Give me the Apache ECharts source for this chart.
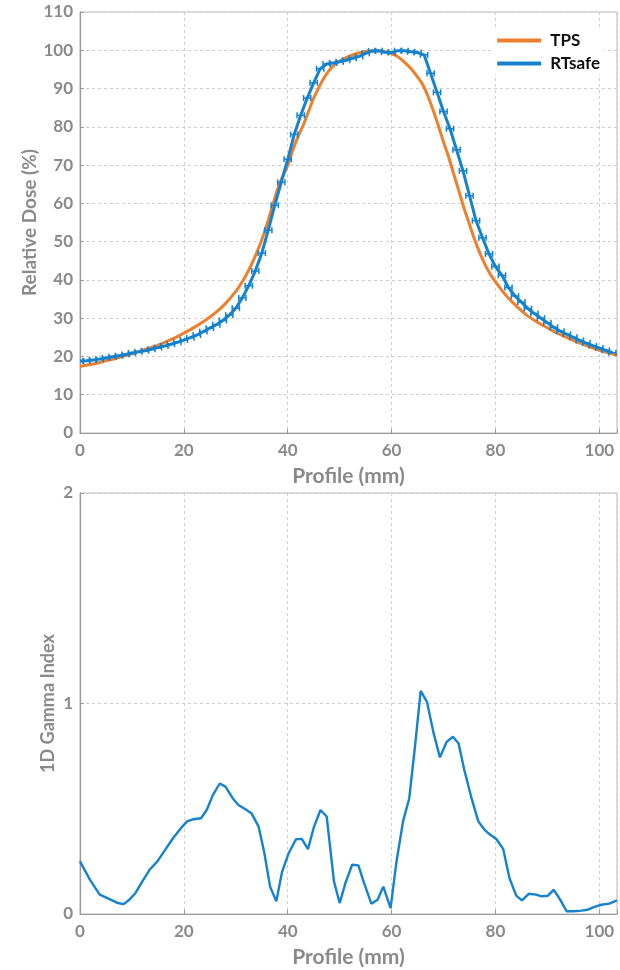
<!DOCTYPE html>
<html>
<head>
<meta charset="utf-8">
<script src="https://cdn.jsdelivr.net/npm/echarts@6/dist/echarts.min.js"></script>
<style>
html,body{margin:0;padding:0;background:#fff;}
#chart{width:620px;height:970px;}
</style>
</head>
<body>
<div id="chart"></div>
<script>
// TPS dose profile (orange)
const tpsX = [0,2,4,6,8,10,12,14,16,18,20,22,24,26,28,30,31,32,33,34,35,36,37,38,39,40,41,42,43,44,45,46,47,48,49,50,52,54,56,58,60,61,62,63,64,65,66,67,68,69,70,71,72,73,74,75,76,77,78,79,80,82,84,86,88,90,92,94,96,98,100,102,103.4];
const tpsY = [17.4,17.9,18.5,19.2,19.9,20.7,21.6,22.5,23.5,24.7,26.1,27.6,29.3,31.3,33.8,37,39,41.3,44,47,50.5,54.5,59,63.5,67,70,74,77.5,80.5,84,87.5,90.3,92.8,94.8,96.2,97.2,98.5,99.4,99.9,99.8,99.1,98.5,97.5,96.2,94.8,93,91,88,84.3,80.3,76,72,67.5,63,58.5,54.5,50.5,47,44,41.5,39.5,36,33.2,30.8,29,27.5,26,24.8,23.6,22.6,21.6,20.8,20.4];

// RTsafe measured profile (blue) with horizontal error bars
const rtX = [0,1.25,2.5,3.75,5,6.25,7.5,8.75,10,11.25,12.5,13.75,15,16.25,17.5,18.75,20,21.25,22.5,23.75,25,26.25,27.5,28.75,30,31.25,32.5,33.75,35,36.25,37.5,38.75,40,41.25,42.5,43.75,45,46.25,47.5,48.75,50,51.25,52.5,53.75,55,56.25,57.5,58.75,60,61.25,62.5,63.75,65,66.25,67.5,68.75,70,71.25,72.5,73.75,75,76.25,77.5,78.75,80,81.25,82.5,83.75,85,86.25,87.5,88.75,90,91.25,92.5,93.75,95,96.25,97.5,98.75,100,101.25,102.5];
const rtY = [18.8,18.9,19.1,19.3,19.6,19.9,20.2,20.5,20.9,21.2,21.5,21.9,22.3,22.7,23.2,23.7,24.3,24.9,25.6,26.5,27.4,28.3,29.4,30.8,32.6,35.3,38.5,42.3,47,53,59.5,65.5,71.5,78,83,87.5,91.5,95.2,96.4,96.7,97,97.4,97.9,98.4,99.2,99.8,99.9,99.5,99.4,99.9,99.9,99.6,99.4,98.8,94,89,84,79.5,74,68.5,62,55.5,51,46.8,43.5,41.2,38,35.8,34.2,32.5,31.2,30,28.8,27.6,26.6,25.8,25,24.2,23.5,22.8,22.2,21.6,21];
const rtErr = 0.7; // horizontal error half-width (mm)

// 1D gamma index
const gX = [0,1.9,3.8,5.7,7.3,8.4,9.5,10.7,11.8,13.4,14.9,16.4,17.9,19.5,20.6,21.8,23.3,24.4,25.6,26.9,28,29.4,30.5,31.7,33,34.4,35.5,36.6,37.8,38.9,40.2,41.6,42.7,43.9,45,46.3,47.5,48.9,50,51.1,52.4,53.6,54.7,56.1,57.3,58.4,59.8,60.9,62.2,63.4,64.5,65.6,66.8,68.1,69.3,70.6,71.8,72.9,74,75.3,76.7,77.9,79,80.2,81.5,82.7,84,85.1,86.4,87.8,88.9,90.1,91.2,92.4,93.7,95,96.6,97.7,98.9,100.4,101.9,103.4];
const gY = [0.25,0.163,0.092,0.071,0.052,0.047,0.068,0.1,0.147,0.21,0.25,0.305,0.36,0.41,0.44,0.45,0.455,0.494,0.566,0.62,0.605,0.55,0.518,0.5,0.479,0.415,0.29,0.13,0.06,0.2,0.29,0.355,0.357,0.308,0.41,0.494,0.463,0.155,0.052,0.147,0.234,0.231,0.147,0.049,0.068,0.13,0.028,0.242,0.44,0.55,0.795,1.06,1.008,0.858,0.744,0.818,0.842,0.81,0.684,0.558,0.44,0.4,0.376,0.355,0.308,0.17,0.087,0.065,0.096,0.092,0.084,0.087,0.115,0.071,0.013,0.013,0.016,0.02,0.033,0.044,0.049,0.065];

const xTicks = [0,20,40,60,80,100];
const doseTicks = [0,10,20,30,40,50,60,70,80,90,100,110];
const gammaTicks = [0,1,2];

const ORANGE = '#EE7F2D';
const BLUE = '#1482CE';
const GRAY = '#8a8a8a';
const FONT = 'Lato';

const zip = (a, b) => a.map((v, i) => [v, b[i]]);

function xAxisCfg(gridIndex) {
  return {
    type: 'value', gridIndex, min: 0, max: 103.4, interval: 20,
    name: 'Profile (mm)', nameLocation: 'middle', nameGap: 33,
    nameTextStyle: {color: GRAY, fontSize: 21, fontWeight: 'bold', fontFamily: FONT},
    axisLine: {show: true, lineStyle: {color: '#999', width: 1.2}},
    axisTick: {show: true, inside: true, length: 4, lineStyle: {color: '#999'}},
    axisLabel: {color: GRAY, fontSize: 17, fontWeight: 'bold', fontFamily: FONT, margin: 9,
      formatter: v => xTicks.includes(v) ? String(v) : ''},
    splitLine: {show: true, lineStyle: {color: '#cfcfcf', type: [3, 3], width: 1}}
  };
}

const option = {
  backgroundColor: '#fff',
  animation: false,
  legend: {
    data: ['TPS', 'RTsafe'],
    orient: 'vertical',
    right: 16, top: 30,
    itemWidth: 44, itemHeight: 4, itemGap: 6,
    icon: 'rect',
    backgroundColor: '#fff',
    padding: [2, 4],
    textStyle: {color: '#111', fontSize: 17, fontWeight: 'bold', fontFamily: FONT, padding: [0, 0, 0, 4]}
  },
  grid: [
    {left: 80, right: 2, top: 12, height: 421, show: true, borderColor: '#bbb', borderWidth: 1, backgroundColor: 'transparent'},
    {left: 80, right: 2, top: 493, height: 421, show: true, borderColor: '#bbb', borderWidth: 1, backgroundColor: 'transparent'}
  ],
  xAxis: [xAxisCfg(0), xAxisCfg(1)],
  yAxis: [
    {
      type: 'value', gridIndex: 0, min: 0, max: 110, interval: 10,
      name: 'Relative Dose (%)', nameLocation: 'middle', nameGap: 41, nameMoveOverlap: false,
      nameTextStyle: {color: GRAY, fontSize: 19, fontWeight: 'bold', fontFamily: FONT},
      axisLine: {show: true, lineStyle: {color: '#999', width: 1.2}},
      axisTick: {show: true, inside: true, length: 4, lineStyle: {color: '#999'}},
      axisLabel: {color: GRAY, fontSize: 17, fontWeight: 'bold', fontFamily: FONT, margin: 7,
        formatter: v => doseTicks.includes(v) ? String(v) : ''},
      splitLine: {show: true, lineStyle: {color: '#cfcfcf', type: [3, 3], width: 1}}
    },
    {
      type: 'value', gridIndex: 1, min: 0, max: 2, interval: 1,
      name: '1D Gamma Index', nameLocation: 'middle', nameGap: 23, nameMoveOverlap: false,
      nameTextStyle: {color: GRAY, fontSize: 18, fontWeight: 'bold', fontFamily: FONT},
      axisLine: {show: true, lineStyle: {color: '#999', width: 1.2}},
      axisTick: {show: true, inside: true, length: 4, lineStyle: {color: '#999'}},
      axisLabel: {color: GRAY, fontSize: 17, fontWeight: 'bold', fontFamily: FONT, margin: 7,
        formatter: v => gammaTicks.includes(v) ? String(v) : ''},
      splitLine: {show: true, lineStyle: {color: '#cfcfcf', type: [3, 3], width: 1}}
    }
  ],
  series: [
    {
      name: 'TPS', type: 'line', xAxisIndex: 0, yAxisIndex: 0,
      data: zip(tpsX, tpsY), showSymbol: false, smooth: 0.3,
      lineStyle: {color: ORANGE, width: 3}, itemStyle: {color: ORANGE}, z: 2
    },
    {
      name: 'RTsafe', type: 'line', xAxisIndex: 0, yAxisIndex: 0,
      data: zip(rtX, rtY), showSymbol: false,
      lineStyle: {color: BLUE, width: 3}, itemStyle: {color: BLUE}, z: 3
    },
    {
      name: 'RTsafe', type: 'custom', xAxisIndex: 0, yAxisIndex: 0,
      data: rtX.map((x, i) => [x, rtY[i], rtErr]),
      clip: true, z: 4,
      itemStyle: {color: BLUE},
      renderItem: function (params, api) {
        const x = api.value(0), y = api.value(1), e = api.value(2);
        const p1 = api.coord([x - e, y]);
        const p2 = api.coord([x + e, y]);
        const h = 3;
        const st = {stroke: BLUE, lineWidth: 1.5};
        return {
          type: 'group',
          children: [
            {type: 'line', shape: {x1: p1[0], y1: p1[1], x2: p2[0], y2: p2[1]}, style: st},
            {type: 'line', shape: {x1: p1[0], y1: p1[1] - h, x2: p1[0], y2: p1[1] + h}, style: st},
            {type: 'line', shape: {x1: p2[0], y1: p2[1] - h, x2: p2[0], y2: p2[1] + h}, style: st}
          ]
        };
      }
    },
    {
      name: 'Gamma', type: 'line', xAxisIndex: 1, yAxisIndex: 1,
      data: zip(gX, gY), showSymbol: false,
      lineStyle: {color: BLUE, width: 2.4}, itemStyle: {color: BLUE}
    }
  ]
};

const chart = echarts.init(document.getElementById('chart'), null, {renderer: 'canvas'});
chart.setOption(option);
</script>
</body>
</html>
